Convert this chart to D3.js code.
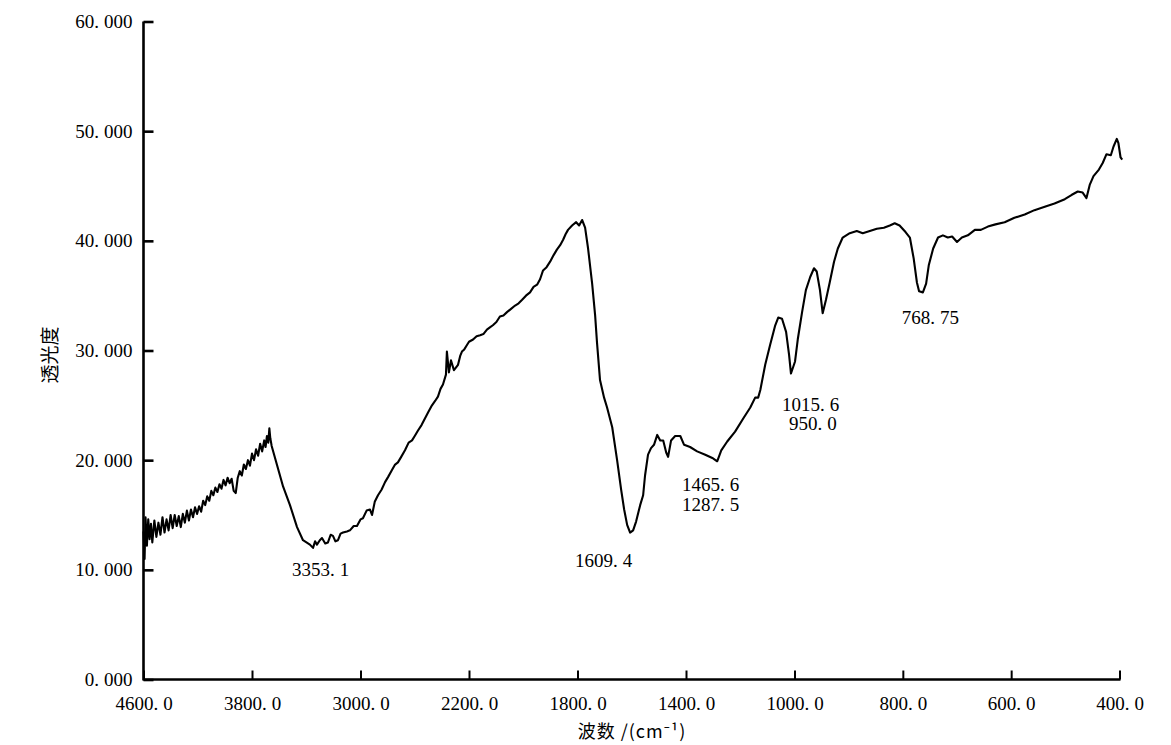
<!DOCTYPE html>
<html>
<head>
<meta charset="utf-8">
<script src="https://cdn.jsdelivr.net/npm/d3@7/dist/d3.min.js"></script>
<style>
  html, body { margin: 0; padding: 0; background: #fff; }
  svg { display: block; }
</style>
</head>
<body>
<svg id="chart" width="1171" height="745"></svg>
<script>
// ---- Data ----
const wavenumbers = [
  4600,4592,4585,4575,4565,4555,4545,4535,4520,4505,4490,4475,4460,4445,4430,4415,4400,4385,4370,4355,
  4340,4325,4310,4295,4280,4265,4250,4235,4220,4205,4190,4175,4160,4145,4130,4115,4100,4085,4070,4055,
  4040,4025,4010,3995,3980,3965,3950,3935,3920,3905,3890,3875,3860,3845,3830,3815,3800,3785,3770,3755,
  3740,3725,3710,3700,3690,3680,3672,3665,3655,
  3571,3520,3468,3424,
  3373,3350,3335,3321,3300,3284,3260,3240,3220,3203,3185,3166,3147,3129,3100,3078,3050,3026,3000,2982,
  2955,2930,2915,2895,2871,2845,2819,2795,2768,2745,2724,2700,2672,2645,2620,2600,2576,2550,2525,2500,
  2473,2450,2429,2410,2392,2370,2363,2348,2333,2311,2281,2265,2252,2235,2215,2200,2185,2172,2159,2147,
  2134,2123,2112,2099,2086,2073,2060,2045,2030,2017,2005,1990,1975,1962,1949,1938,1927,1914,1901,1888,
  1876,1864,1853,1844,1835,
  1820,1805,1794,1783,1772,
  1761,1746,1735,1728,1717,1702,1691,1672,1654,1639,1628,1617,1606,1595,1584,1569,1558,1551,1540,1529,
  1518,1506,1495,1484,1473,1466,1455,1440,1421,1407,1385,1359,1329,1303,1285,1270,1248,1219,1189,1163,
  1145,1134,1126,1108,1090,1071,1060,1046,1031,1020,1013,
  999,994,986,979,971,964,959,953,948,942,935,927,920,911,898,885,874,861,848,835,
  824,815,806,795,787,780,774,770,763,757,752,744,735,726,717,709,700,691,680,667,
  656,643,629,612,594,575,557,538,520,501,488,477,468,461,455,448,438,431,424,416,
  411,405,402,398,395
];
const transmittance = [
  13.5,11.0,14.8,12.2,14.6,12.8,14.2,12.5,14.5,13.0,14.3,13.2,14.8,13.4,14.6,13.6,15.0,13.8,15.0,14.0,
  14.9,13.9,15.1,14.3,15.4,14.5,15.5,14.8,15.7,15.1,15.8,15.3,16.3,15.9,16.7,16.3,17.2,16.8,17.5,17.1,
  17.8,17.4,18.2,17.7,18.4,17.9,18.3,17.2,17.0,18.4,19.0,18.6,19.6,19.2,20.0,19.5,20.6,20.0,21.0,20.4,
  21.5,20.8,21.8,21.2,22.2,21.6,22.9,22.0,21.3,
  17.6,15.9,13.9,12.7,
  12.3,12.0,12.6,12.3,12.7,12.9,12.4,12.5,13.2,13.1,12.6,12.7,13.3,13.4,13.5,13.6,14.0,14.0,14.6,14.7,
  15.4,15.5,15.0,16.2,16.8,17.3,18.0,18.5,19.1,19.6,19.8,20.3,20.9,21.6,21.8,22.2,22.7,23.2,23.8,24.4,
  25.0,25.4,25.8,26.5,26.9,27.8,29.9,28.0,29.1,28.2,28.7,29.5,29.9,30.1,30.5,30.8,31.0,31.3,31.4,31.5,
  31.9,32.1,32.3,32.6,33.1,33.2,33.5,33.8,34.1,34.3,34.6,35.0,35.3,35.8,36.0,36.5,37.3,37.6,38.1,38.7,
  39.2,39.6,40.1,40.6,41.0,
  41.4,41.7,41.4,41.9,41.2,
  39.3,36.1,33.2,30.7,27.3,25.7,24.8,23.0,20.0,17.3,15.5,14.1,13.4,13.6,14.4,15.9,16.8,18.6,20.5,21.1,
  21.4,22.3,21.8,21.8,20.7,20.3,21.8,22.2,22.2,21.4,21.2,20.8,20.5,20.2,19.9,20.9,21.7,22.6,23.8,24.8,
  25.7,25.7,26.4,28.7,30.5,32.3,33.0,32.9,31.7,29.6,27.9,
  29.0,31.0,33.5,35.5,36.7,37.5,37.2,35.5,33.4,34.6,36.2,38.1,39.3,40.3,40.7,40.9,40.7,40.9,41.1,41.2,
  41.4,41.6,41.4,40.8,40.3,38.4,36.2,35.4,35.3,36.1,37.8,39.3,40.3,40.5,40.3,40.4,39.9,40.3,40.5,41.0,
  41.0,41.3,41.5,41.7,42.1,42.4,42.8,43.1,43.4,43.8,44.2,44.5,44.4,43.9,45.1,45.9,46.5,47.1,47.9,47.8,
  48.6,49.3,48.9,47.6,47.4
];

// x axis breakpoints (piecewise scale of the instrument plot) and ticks
const xBreaks = [4600, 2200, 1000, 400];
const xTicks = [4600, 3800, 3000, 2200, 1800, 1400, 1000, 800, 600, 400];
const yTicks = [0, 10, 20, 30, 40, 50, 60];

// peak annotations: label text with data-space anchor (left baseline)
const peakLabels = ["3353.1", "1609.4", "1465.6", "1287.5", "1015.6", "950.0", "768.75"];
const peakLabelWn = [3505, 1809, 1415, 1415, 1046, 1020, 802];
const peakLabelT  = [9.44, 10.26, 17.19, 15.36, 24.48, 22.75, 32.4];

const xTitle = "波数 /(cm⁻¹)";
const yTitle = "透光度";

// ---- Drawing ----
const svg = d3.select("#chart");
const numFont = "'Liberation Serif', 'DejaVu Serif', serif";
const cjkFont = "'Noto Sans CJK SC', 'Noto Sans', sans-serif";

const x = d3.scaleLinear().domain(xBreaks).range([143.5, 469, 794.5, 1119.5]);
const y = d3.scaleLinear().domain([0, 60]).range([679.5, 21.5]);

// split "60.000" into "60." + gap + "000" like the reference typesetting
function spacedText(sel, gap) {
  sel.each(function() {
    const t = d3.select(this);
    const s = t.text();
    const i = s.indexOf(".");
    if (i < 0) return;
    t.text(null);
    t.append("tspan").text(s.slice(0, i + 1));
    t.append("tspan").attr("dx", gap).text(s.slice(i + 1));
  });
}

// x axis
const gx = svg.append("g").attr("transform", `translate(0,${y(0)})`)
  .call(d3.axisBottom(x).tickValues(xTicks).tickFormat(d3.format(".1f"))
    .tickSizeInner(-9).tickSizeOuter(0).tickPadding(17));
gx.select(".domain").attr("stroke", "#000").attr("stroke-width", 2.6)
  .attr("d", `M${x(4600)},0H${x(400) + 1}`);
gx.selectAll(".tick line").attr("stroke", "#000").attr("stroke-width", 2);
gx.selectAll(".tick text").attr("font-family", numFont).attr("font-size", 19).attr("fill", "#000")
  .call(spacedText, 5);

// y axis
const gy = svg.append("g").attr("transform", `translate(${x(4600)},0)`)
  .call(d3.axisLeft(y).tickValues(yTicks).tickFormat(d3.format(".3f"))
    .tickSizeInner(-10).tickSizeOuter(0).tickPadding(11));
gy.select(".domain").attr("stroke", "#000").attr("stroke-width", 2.6)
  .attr("d", `M0,${y(60)}V${y(0) + 1}`);
gy.selectAll(".tick line").attr("stroke", "#000").attr("stroke-width", 2.6);
gy.selectAll(".tick text").attr("font-family", numFont).attr("font-size", 19).attr("fill", "#000")
  .call(spacedText, 5);

// spectrum line
const pts = wavenumbers.map((w, i) => [w, transmittance[i]]);
svg.append("path")
  .datum(pts)
  .attr("fill", "none")
  .attr("stroke", "#000")
  .attr("stroke-width", 2.1)
  .attr("stroke-linejoin", "round")
  .attr("d", d3.line().x(d => x(d[0])).y(d => y(d[1])));

// peak labels
svg.append("g").selectAll("text")
  .data(peakLabels)
  .join("text")
  .attr("x", (d, i) => x(peakLabelWn[i]))
  .attr("y", (d, i) => y(peakLabelT[i]))
  .attr("font-family", numFont)
  .attr("font-size", 19)
  .attr("fill", "#000")
  .text(d => d)
  .call(spacedText, 5);

// axis titles
svg.append("text")
  .attr("x", 632).attr("y", 738)
  .attr("text-anchor", "middle")
  .attr("font-family", cjkFont).attr("font-size", 18).attr("fill", "#000")
  .attr("letter-spacing", 1)
  .text(xTitle);

svg.append("text")
  .attr("transform", "translate(57,355) rotate(-90)")
  .attr("text-anchor", "middle")
  .attr("font-family", cjkFont).attr("font-size", 19).attr("fill", "#000")
  .text(yTitle);
</script>
</body>
</html>
